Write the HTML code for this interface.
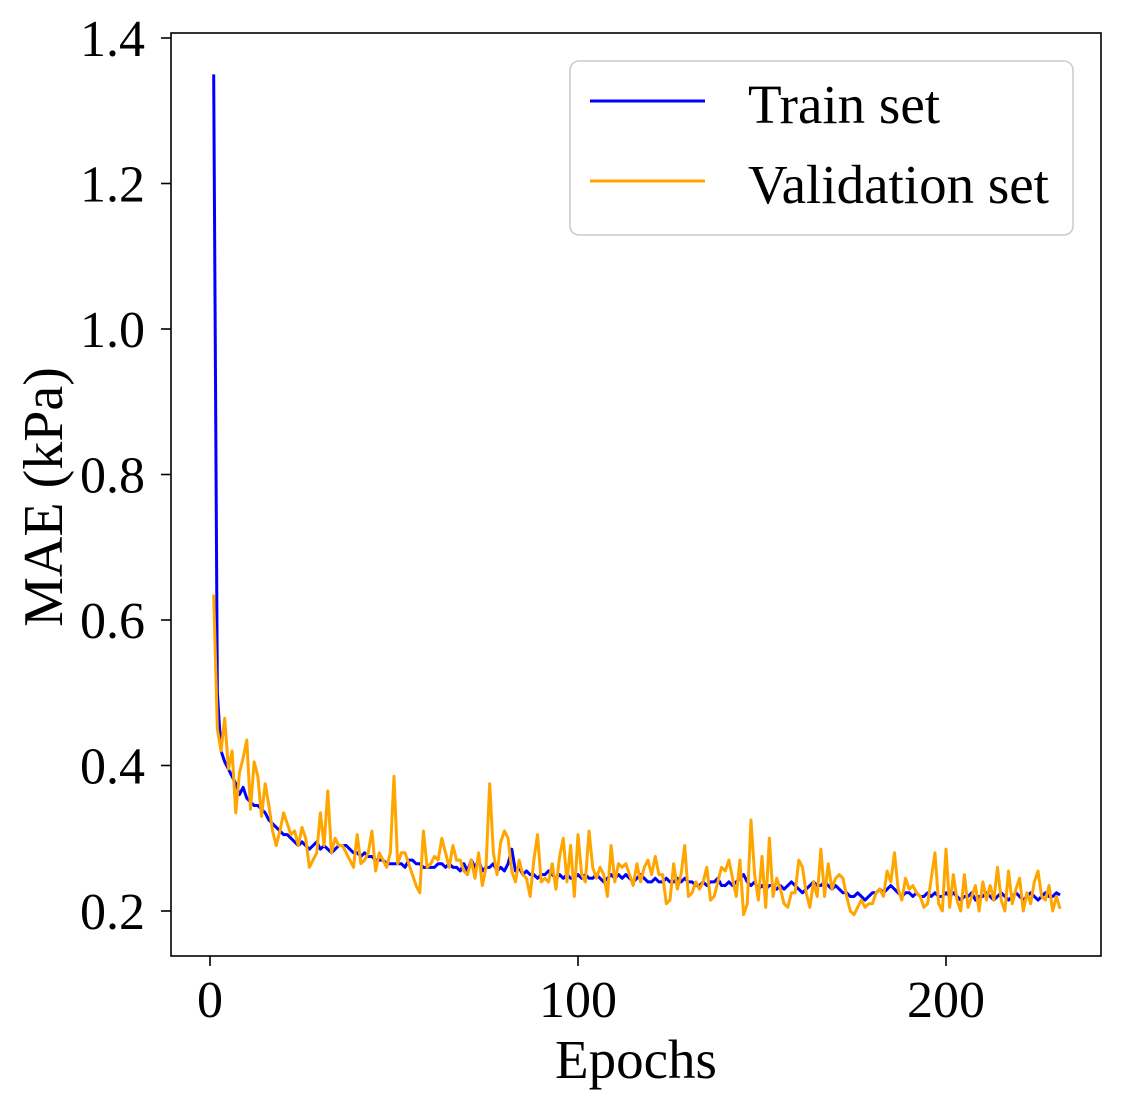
<!DOCTYPE html>
<html><head><meta charset="utf-8"><style>
body{margin:0;background:#fff}
svg text{font-family:"Liberation Serif",serif;fill:#000}
</style></head><body>
<svg id="chart" width="1121" height="1110" xmlns="http://www.w3.org/2000/svg">
<g id="marks"></g>
<rect x="171" y="33" width="930" height="923" fill="none" stroke="#000" stroke-width="1.6"/>
<g id="axes"></g>
<text x="636" y="1078" font-size="55" text-anchor="middle">Epochs</text>
<text transform="translate(62,497) rotate(-90)" font-size="56" text-anchor="middle">MAE (kPa)</text>
<g>
<rect x="570" y="61" width="503" height="174" rx="9" fill="#fff" stroke="#ccc" stroke-width="1.6"/>
<line x1="590" y1="101" x2="705" y2="101" stroke="#0000ff" stroke-width="3"/>
<text x="748" y="123" font-size="55">Train set</text>
<line x1="590" y1="181" x2="705" y2="181" stroke="#ffa500" stroke-width="3"/>
<text x="748" y="203" font-size="55">Validation set</text>
</g>
</svg>
<script>
const xTicks=[0,100,200];
const yTicks=[0.2,0.4,0.6,0.8,1.0,1.2,1.4];
const yTickLabels=["0.2","0.4","0.6","0.8","1.0","1.2","1.4"];
const trainMAE=[1.35,0.50,0.42,0.405,0.395,0.385,0.375,0.36,0.37,0.355,
0.35,0.345,0.345,0.34,0.335,0.325,0.32,0.315,0.31,0.305,
0.305,0.30,0.295,0.29,0.295,0.29,0.285,0.29,0.295,0.285,
0.29,0.285,0.28,0.285,0.29,0.29,0.29,0.285,0.28,0.28,
0.275,0.28,0.275,0.275,0.27,0.27,0.27,0.265,0.265,0.265,
0.265,0.265,0.26,0.27,0.27,0.265,0.265,0.26,0.26,0.26,
0.26,0.265,0.265,0.26,0.265,0.26,0.26,0.255,0.265,0.255,
0.27,0.26,0.27,0.255,0.26,0.26,0.265,0.255,0.26,0.255,
0.265,0.285,0.255,0.26,0.25,0.255,0.25,0.25,0.245,0.25,
0.25,0.255,0.25,0.245,0.25,0.245,0.25,0.245,0.245,0.25,
0.245,0.25,0.245,0.245,0.25,0.245,0.24,0.245,0.25,0.245,
0.25,0.245,0.25,0.245,0.24,0.245,0.25,0.245,0.24,0.24,
0.245,0.24,0.24,0.245,0.24,0.24,0.245,0.24,0.245,0.24,
0.24,0.235,0.235,0.24,0.235,0.24,0.24,0.245,0.235,0.235,
0.24,0.235,0.24,0.245,0.25,0.24,0.235,0.24,0.23,0.235,
0.23,0.235,0.235,0.23,0.235,0.23,0.235,0.24,0.235,0.23,
0.225,0.23,0.235,0.24,0.235,0.235,0.24,0.235,0.23,0.235,
0.23,0.225,0.225,0.22,0.22,0.225,0.22,0.215,0.22,0.225,
0.225,0.23,0.225,0.23,0.235,0.23,0.225,0.22,0.225,0.225,
0.22,0.225,0.22,0.22,0.225,0.22,0.225,0.22,0.22,0.225,
0.22,0.225,0.22,0.215,0.22,0.22,0.225,0.215,0.22,0.22,
0.225,0.22,0.215,0.22,0.225,0.22,0.215,0.22,0.225,0.22,
0.215,0.22,0.225,0.22,0.215,0.22,0.225,0.22,0.22,0.225,0.222];
const validationMAE=[0.635,0.45,0.42,0.465,0.395,0.42,0.335,0.39,0.41,0.435,
0.34,0.405,0.385,0.33,0.375,0.345,0.31,0.29,0.31,0.335,
0.32,0.305,0.31,0.29,0.315,0.3,0.26,0.27,0.28,0.335,
0.29,0.365,0.28,0.3,0.29,0.29,0.28,0.27,0.26,0.305,
0.265,0.27,0.28,0.31,0.255,0.28,0.27,0.26,0.28,0.385,
0.265,0.28,0.28,0.265,0.25,0.235,0.225,0.31,0.26,0.265,
0.275,0.27,0.3,0.28,0.26,0.29,0.27,0.27,0.255,0.25,
0.27,0.245,0.28,0.235,0.26,0.375,0.28,0.25,0.295,0.31,
0.3,0.255,0.24,0.27,0.25,0.245,0.22,0.27,0.305,0.24,
0.245,0.24,0.265,0.23,0.275,0.3,0.24,0.29,0.22,0.305,
0.25,0.24,0.31,0.26,0.245,0.26,0.25,0.22,0.29,0.24,
0.265,0.26,0.265,0.25,0.235,0.265,0.24,0.26,0.27,0.25,
0.275,0.25,0.25,0.21,0.215,0.265,0.23,0.25,0.29,0.22,
0.225,0.24,0.23,0.24,0.26,0.215,0.22,0.24,0.26,0.255,
0.27,0.245,0.22,0.27,0.195,0.21,0.325,0.25,0.215,0.275,
0.205,0.3,0.22,0.245,0.23,0.21,0.205,0.225,0.225,0.27,
0.26,0.225,0.205,0.24,0.22,0.285,0.22,0.265,0.23,0.245,
0.25,0.245,0.22,0.2,0.195,0.205,0.215,0.205,0.21,0.21,
0.225,0.23,0.22,0.255,0.24,0.28,0.23,0.215,0.245,0.23,
0.235,0.225,0.22,0.205,0.21,0.245,0.28,0.21,0.2,0.285,
0.205,0.25,0.215,0.2,0.25,0.205,0.22,0.235,0.2,0.24,
0.215,0.235,0.215,0.26,0.215,0.2,0.255,0.21,0.23,0.245,
0.2,0.225,0.21,0.24,0.255,0.22,0.215,0.235,0.2,0.22,0.203];

const NS="http://www.w3.org/2000/svg";
const xScale=v=>210+v*3.68;
const yScale=v=>911-(v-0.2)/0.2*145.5;
const axes=document.getElementById('axes');
const marks=document.getElementById('marks');
function mk(tag,attrs,parent){const e=document.createElementNS(NS,tag);for(const k in attrs)e.setAttribute(k,attrs[k]);parent.appendChild(e);return e;}
xTicks.forEach(t=>{
  const x=xScale(t);
  const l=mk('line',{x1:x,x2:x,y1:956,y2:966,stroke:'#000','stroke-width':1.6},axes);
  
  
  const tx=mk('text',{x:x,y:1017,'font-size':52,'text-anchor':'middle'},axes);
  tx.textContent=String(t);
  
  
});
yTicks.forEach((t,i)=>{
  const y=yScale(t);
  const l=mk('line',{x1:161,x2:171,y1:y,y2:y,stroke:'#000','stroke-width':1.6},axes);
  
  
  const tx=mk('text',{x:145,y:y+18,'font-size':52,'text-anchor':'end'},axes);
  tx.textContent=yTickLabels[i];
  
  
});
function series(arr,color,name){
  const pts=arr.map((v,i)=>xScale(i+1).toFixed(2)+','+yScale(v).toFixed(2)).join(' ');
  const p=mk('polyline',{points:pts,fill:'none',stroke:color,'stroke-width':3,'stroke-linejoin':'round'},marks);
  
  
}
series(trainMAE,'#0000ff','train-line');
series(validationMAE,'#ffa500','validation-line');
</script>
</body></html>
